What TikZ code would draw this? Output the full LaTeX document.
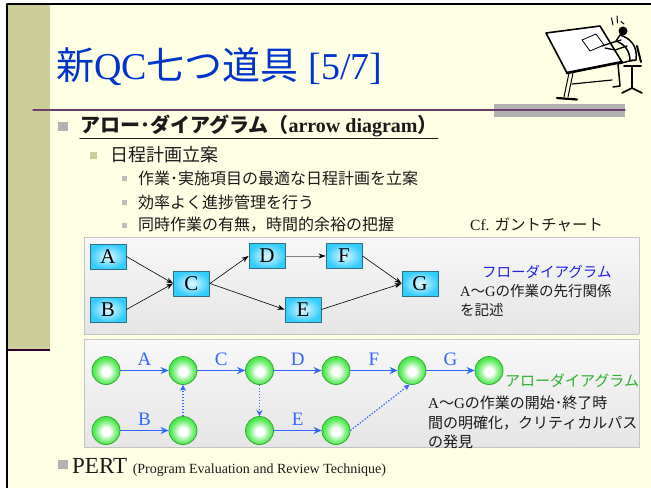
\documentclass[tikz,border=0pt]{standalone}
\usepackage{fontspec}
\setmainfont{Liberation Serif}
\newfontfamily\jpfont{Noto Sans CJK JP}
\newcommand{\jp}[1]{{\jpfont #1}}
\usepackage{tikz}
\usetikzlibrary{arrows.meta,positioning}
\definecolor{QCPaper}{HTML}{FFFFE5}
\definecolor{QCOlive}{HTML}{CCCC99}
\definecolor{QCPlumDark}{HTML}{330033}
\definecolor{QCPlum}{HTML}{6B3D6B}
\definecolor{QCBar}{HTML}{B2B2B2}
\definecolor{QCTitle}{HTML}{0033CC}
\definecolor{QCCyan}{HTML}{33CCFF}
\definecolor{QCCyanPale}{HTML}{E6FAFF}
\definecolor{QCBoxLine}{HTML}{2F6F80}
\definecolor{QCGreen}{HTML}{4DE84D}
\definecolor{QCGreenLine}{HTML}{34A834}
\definecolor{QCArrow}{HTML}{3366FF}
\definecolor{QCFlowBlue}{HTML}{2020E0}
\definecolor{QCLabelGreen}{HTML}{2DAF2D}
\definecolor{QCPanelLine}{HTML}{BDBDBD}
\definecolor{QCInk}{HTML}{1A1A1A}
% soft green ball for the event circles
\pgfdeclareradialshading{QCEventBall}{\pgfpoint{0bp}{-2bp}}{%
  color(0bp)=(white); color(7bp)=(white);
  color(15bp)=(white!45!QCGreen); color(23bp)=(QCGreen);
  color(50bp)=(QCGreen)}

\begin{document}
\begin{tikzpicture}[x=1pt,y=-1pt,line cap=round,line join=round,
  task/.style={draw=QCBoxLine,line width=0.9pt,shading=radial,
    inner color=QCCyanPale,outer color=QCCyan,minimum width=36pt,
    minimum height=25pt,inner sep=0pt,font=\fontsize{21}{21}\selectfont},
  event/.style={circle,draw=QCGreenLine,line width=0.8pt,shading=QCEventBall,
    minimum size=28pt,inner sep=0pt},
  flow/.style={line width=0.6pt,-{Stealth[length=7pt,width=5pt,color=black]}},
  act/.style={QCArrow,line width=1.4pt,-{Stealth[length=8pt,width=7pt]}},
  dummy/.style={QCArrow,line width=1.2pt,line cap=butt,
    dash pattern=on 1.4pt off 1.6pt,-{Stealth[length=6pt,width=6pt]}},
  actlabel/.style={midway,above=3pt,inner sep=1pt,text=QCArrow,
    font=\fontsize{19}{19}\selectfont},
  panel/.style={draw=QCPanelLine,line width=0.6pt,dash pattern=on 1.5pt off 1pt,
    top color=black!3,bottom color=black!10},
  note/.style={anchor=west,inner sep=0pt,text=QCInk}]
  \path[use as bounding box] (0,0) rectangle (651,488);

  % Slide background, side strip and frame
  \fill[white] (0,0) rectangle (651,488);
  \fill[QCPaper] (7,4) rectangle (651,488);
  \fill[QCOlive] (8,5) rectangle (50,350);
  \draw[QCPlumDark,line width=2.5pt,line cap=butt] (8,350) -- (50,350);
  \draw[black,line width=2.2pt,line cap=butt] (7,488) -- (7,4) -- (651,4);

  % Title and rule underneath
  \node[anchor=base west,inner sep=0pt,text=QCTitle,
    font=\fontsize{38}{38}\selectfont] (title) at (56,79)
    {\jp{新}QC\jp{七つ道具} [5/7]};
  \fill[QCBar] (494,104) rectangle (625,117);
  \draw[QCPlum,line width=1.2pt] (33,110) -- (625,110);

  % Drafting-table figure
  \begin{scope}[black]
    \draw[line width=1.6pt,fill=white] (546,33) -- (600,26) -- (622,62)
      -- (567,73) -- cycle;
    \draw[line width=2.6pt] (567,73) -- (622,62);
    \draw[line width=0.8pt,fill=white] (582,40) -- (596,34) -- (604,45)
      -- (590,51) -- cycle;
    \draw[line width=1pt] (569,73) -- (564,97) (573,73) -- (568,97);
    \draw[line width=2.2pt] (557,98) -- (577,99.5);
    \draw[line width=1.2pt] (572,84) -- (612,80);
    \draw[line width=1.5pt,fill=white] (620,35) .. controls (630,38)
      and (638,46) .. (636,60) -- (630,61) .. controls (630,50)
      and (624,44) .. (616,41) -- cycle;
    \fill (623,31) circle[radius=4.5];
    \draw[line width=1.3pt] (621,40) -- (611,43) -- (602,46);
    \draw[line width=1.3pt] (627,46) -- (615,50) -- (605,48);
    \draw[line width=1.5pt] (633,60) -- (618,64) -- (620,86) -- (613,87);
    \draw[line width=2pt] (637,46) -- (641,62);
    \draw[line width=2pt] (624,66) -- (641,66);
    \draw[line width=1.6pt] (632,66) -- (632,88) (622,93) -- (632,88) -- (642,93);
    \draw[line width=1pt] (611.5,18) -- (613,25) (617,16) -- (617.5,23)
      (621,21.5) -- (624,24);
  \end{scope}

  % Bullet list
  \fill[QCBar] (58,122) rectangle (68,131);
  \node[note,font=\fontsize{20}{20}\selectfont\bfseries] (head) at (80,126)
    {\jp{アロー･ダイアグラム（}arrow diagram\jp{）}};
  \draw[QCInk,line width=1.1pt] ([yshift=-1pt]head.south west)
    -- ([yshift=-1pt]head.south east);
  \fill[QCOlive] (90,152) rectangle (97,159);
  \node[note,font=\fontsize{18}{18}\selectfont\jpfont] (plan) at (110,155)
    {日程計画立案};
  \foreach \y in {178,202.5,225}
    \fill[QCBar!85] (122,\y-2.5) rectangle (127,\y+2.5);
  \node[note,font=\fontsize{16}{16}\selectfont\jpfont] (item1) at (138,178)
    {作業･実施項目の最適な日程計画を立案};
  \node[note,font=\fontsize{16}{16}\selectfont\jpfont] (item2) at (138,202.5)
    {効率よく進捗管理を行う};
  \node[note,font=\fontsize{16}{16}\selectfont\jpfont] (item3) at (138,225)
    {同時作業の有無，時間的余裕の把握};
  \node[note,font=\fontsize{15.5}{16}\selectfont] (gantt) at (470,225)
    {Cf. \jp{ガントチャート}};

  % Flow diagram panel
  \draw[panel] (84,237) rectangle (639,334);
  \node[task] (A) at (108,256.5) {A};
  \node[task] (B) at (108,309.5) {B};
  \node[task] (C) at (191.5,283.5) {C};
  \node[task] (D) at (267,256) {D};
  \node[task] (F) at (344,256) {F};
  \node[task] (E) at (303,309.5) {E};
  \node[task] (G) at (420,283.5) {G};
  \draw[flow] (A.east) -- (C.west);
  \draw[flow] (B.east) -- (C.west);
  \draw[flow] (C.east) -- (D.west);
  \draw[flow] (C.east) -- (E.west);
  \draw[flow,gray] (D.east) -- (F.west);
  \draw[flow] (F.east) -- (G.west);
  \draw[flow] (E.east) -- (G.west);
  \node[note,text=QCFlowBlue,font=\fontsize{14.5}{15}\selectfont\jpfont]
    (flowname) at (482,272) {フローダイアグラム};
  \node[note,font=\fontsize{14.5}{15}\selectfont] (flowtext1) at (460,291)
    {A\jp{～}G\jp{の作業の先行関係}};
  \node[note,font=\fontsize{14.5}{15}\selectfont\jpfont] (flowtext2)
    at (460,310) {を記述};

  % Arrow diagram panel
  \draw[panel] (84,339) rectangle (639,447);
  \foreach \i/\x in {1/106,2/183,3/259.5,4/336,5/412,6/489}
    \node[event] (t\i) at (\x,370.5) {};
  \foreach \i/\x in {1/106,2/183,3/259.5,4/336}
    \node[event] (b\i) at (\x,430.5) {};
  \draw[act] (t1) -- node[actlabel] {A} (t2);
  \draw[act] (t2) -- node[actlabel] {C} (t3);
  \draw[act] (t3) -- node[actlabel] {D} (t4);
  \draw[act] (t4) -- node[actlabel] {F} (t5);
  \draw[act] (t5) -- node[actlabel] {G} (t6);
  \draw[act] (b1) -- node[actlabel] {B} (b2);
  \draw[act] (b3) -- node[actlabel] {E} (b4);
  \draw[dummy] (b2) -- (t2);
  \draw[dummy] (t3) -- (b3);
  \draw[dummy] (b4.east) -- (t5.260);
  \node[note,text=QCLabelGreen,font=\fontsize{15}{15}\selectfont\jpfont]
    (arrowname) at (505,381) {アローダイアグラム};
  \node[note,font=\fontsize{15}{15}\selectfont] (arrowtext1) at (428,403)
    {A\jp{～}G\jp{の作業の開始･終了時}};
  \node[note,font=\fontsize{15}{15}\selectfont\jpfont] (arrowtext2)
    at (428,423) {間の明確化，クリティカルパス};
  \node[note,font=\fontsize{15}{15}\selectfont\jpfont] (arrowtext3)
    at (428,442) {の発見};

  % Last bullet
  \fill[QCBar] (58,460) rectangle (68,469);
  \node[anchor=base west,inner sep=0pt,text=QCInk] (pert) at (72,473)
    {\fontsize{23}{23}\selectfont PERT
     \fontsize{14}{14}\selectfont (Program Evaluation and Review Technique)};
\end{tikzpicture}
\end{document}
